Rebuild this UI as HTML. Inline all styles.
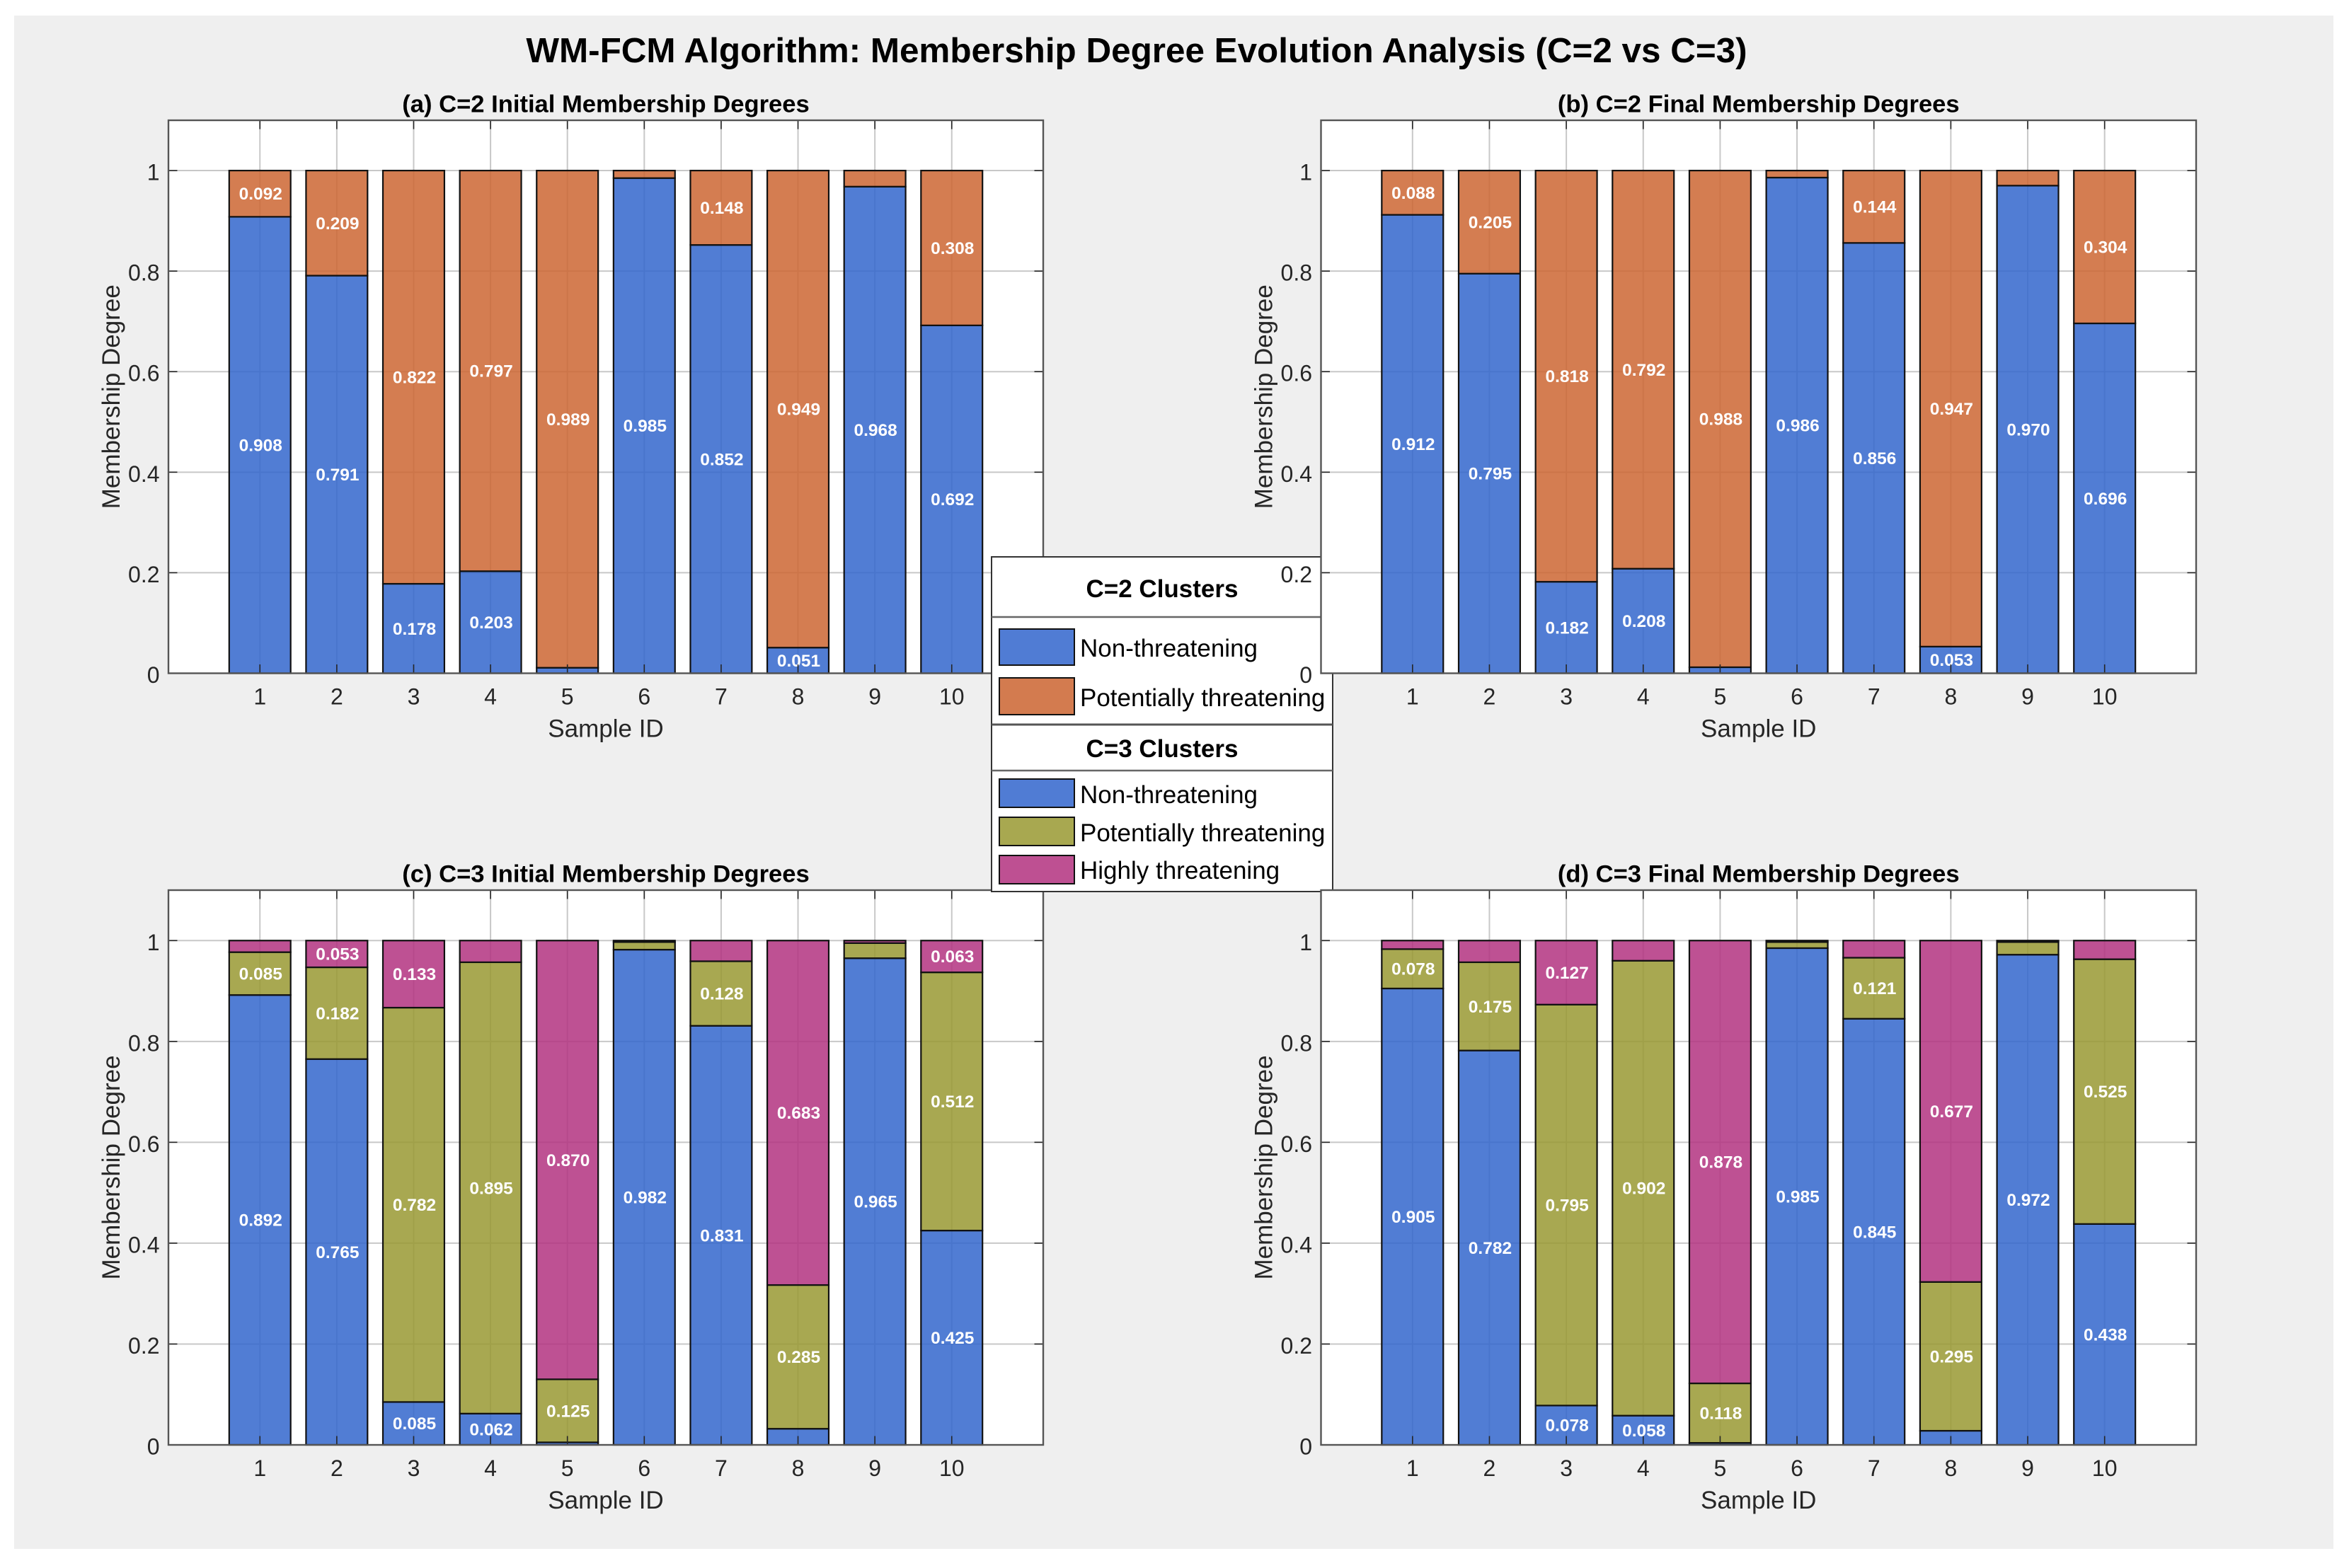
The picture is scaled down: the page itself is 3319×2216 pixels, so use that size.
<!DOCTYPE html>
<html lang="en">
<head>
<meta charset="utf-8">
<title>WM-FCM Algorithm: Membership Degree Evolution Analysis</title>
<style>
html,body{margin:0;padding:0;background:#fff;}
svg{display:block;font-family:"Liberation Sans",Arial,sans-serif;}
</style>
</head>
<body>
<svg id="figure" xmlns="http://www.w3.org/2000/svg" width="3319" height="2216" viewBox="0 0 3319 2216">
  <rect x="20" y="22" width="3277" height="2167" fill="#efefef"/>
  <text x="1606" y="88" font-size="49.4" font-weight="bold" text-anchor="middle" fill="#000">WM-FCM Algorithm: Membership Degree Evolution Analysis (C=2 vs C=3)</text>
  <g id="panel-a"></g>
  <g id="panel-c"></g>
  <g id="legend">
    <rect x="1401" y="787" width="482" height="473" fill="#fff" stroke="#333" stroke-width="2"/>
    <line x1="1401" y1="872" x2="1883" y2="872" stroke="#666" stroke-width="2.5"/>
    <line x1="1401" y1="1024" x2="1883" y2="1024" stroke="#555" stroke-width="3"/>
    <line x1="1401" y1="1089" x2="1883" y2="1089" stroke="#666" stroke-width="2.5"/>
    <text x="1642" y="844" font-size="35" font-weight="bold" text-anchor="middle">C=2 Clusters</text>
    <text x="1642" y="1070" font-size="35" font-weight="bold" text-anchor="middle">C=3 Clusters</text>
    <rect x="1412" y="889" width="106" height="51" fill="#507CD4" stroke="#111" stroke-width="2"/>
    <text x="1526" y="928" font-size="35">Non-threatening</text>
    <rect x="1412" y="958" width="106" height="52" fill="#D37B4F" stroke="#111" stroke-width="2"/>
    <text x="1526" y="998" font-size="35">Potentially threatening</text>
    <rect x="1412" y="1101" width="106" height="40" fill="#507CD4" stroke="#111" stroke-width="2"/>
    <text x="1526" y="1135" font-size="35">Non-threatening</text>
    <rect x="1412" y="1155" width="106" height="40" fill="#A8A850" stroke="#111" stroke-width="2"/>
    <text x="1526" y="1189" font-size="35">Potentially threatening</text>
    <rect x="1412" y="1209" width="106" height="40" fill="#BE5092" stroke="#111" stroke-width="2"/>
    <text x="1526" y="1242" font-size="35">Highly threatening</text>
  </g>
  <g id="panel-b"></g>
  <g id="panel-d"></g>
</svg>
<script>
// Chart data
const sampleIds = [1, 2, 3, 4, 5, 6, 7, 8, 9, 10];
const yTicks = [0, 0.2, 0.4, 0.6, 0.8, 1];
const yTickLabels = ['0', '0.2', '0.4', '0.6', '0.8', '1'];

const a_nonThreatening = [0.908, 0.791, 0.178, 0.203, 0.011, 0.985, 0.852, 0.051, 0.968, 0.692];
const a_potentially = [0.092, 0.209, 0.822, 0.797, 0.989, 0.015, 0.148, 0.949, 0.032, 0.308];

const b_nonThreatening = [0.912, 0.795, 0.182, 0.208, 0.012, 0.986, 0.856, 0.053, 0.970, 0.696];
const b_potentially = [0.088, 0.205, 0.818, 0.792, 0.988, 0.014, 0.144, 0.947, 0.030, 0.304];

const c_nonThreatening = [0.892, 0.765, 0.085, 0.062, 0.005, 0.982, 0.831, 0.032, 0.965, 0.425];
const c_potentially = [0.085, 0.182, 0.782, 0.895, 0.125, 0.015, 0.128, 0.285, 0.030, 0.512];
const c_highly = [0.023, 0.053, 0.133, 0.043, 0.870, 0.003, 0.041, 0.683, 0.005, 0.063];

const d_nonThreatening = [0.905, 0.782, 0.078, 0.058, 0.004, 0.985, 0.845, 0.028, 0.972, 0.438];
const d_potentially = [0.078, 0.175, 0.795, 0.902, 0.118, 0.012, 0.121, 0.295, 0.025, 0.525];
const d_highly = [0.017, 0.043, 0.127, 0.040, 0.878, 0.003, 0.034, 0.677, 0.003, 0.037];

// Rendering
const NS = 'http://www.w3.org/2000/svg';
const BLUE = 'rgb(51,102,204)', ORANGE = 'rgb(204,102,51)', OLIVE = 'rgb(153,153,51)', MAGENTA = 'rgb(179,51,128)';
const LABEL_MIN = 0.05;
const XMIN = -0.19, XMAX = 11.19, YMIN = 0, YMAX = 1.1, BAR_WIDTH = 0.8;

function make(parent, tag, props, content) {
  const el = document.createElementNS(NS, tag);
  for (const k in props) el.setAttribute(k, props[k]);
  if (content !== undefined) el.textContent = content;
  parent.appendChild(el);
  return el;
}

function drawPanel(cfg) {
  const g = document.getElementById(cfg.id);
  const xScale = v => cfg.left + (v - XMIN) / (XMAX - XMIN) * (cfg.right - cfg.left);
  const yScale = v => cfg.bottom - (v - YMIN) / (YMAX - YMIN) * (cfg.bottom - cfg.top);
  let el;

  el = make(g, 'rect', {x: cfg.left, y: cfg.top, width: cfg.right - cfg.left, height: cfg.bottom - cfg.top, fill: '#fff'});
  
  

  // grid
  sampleIds.forEach(id => {
    const line = make(g, 'line', {x1: xScale(id), x2: xScale(id), y1: cfg.top, y2: cfg.bottom, stroke: '#c8c8c8', 'stroke-width': 2});
    
    
  });
  yTicks.forEach(t => {
    const line = make(g, 'line', {x1: cfg.left, x2: cfg.right, y1: yScale(t), y2: yScale(t), stroke: '#c8c8c8', 'stroke-width': 2});
    
    
  });

  // stacked bars
  sampleIds.forEach((id, i) => {
    let base = 0;
    cfg.series.forEach(s => {
      const v = s.values[i];
      const x0 = xScale(id - BAR_WIDTH / 2), x1 = xScale(id + BAR_WIDTH / 2);
      const bar = make(g, 'rect', {x: x0, y: yScale(base + v), width: x1 - x0, height: yScale(base) - yScale(base + v), fill: s.color, 'fill-opacity': 0.85, stroke: '#111', 'stroke-width': 2.2});
      
      
      base += v;
    });
  });

  // value labels
  sampleIds.forEach((id, i) => {
    let base = 0;
    cfg.series.forEach(s => {
      const v = s.values[i];
      if (v >= LABEL_MIN) {
        const lab = make(g, 'text', {x: xScale(id) + 1, y: yScale(base + v / 2) + 8.5, fill: '#fff', 'font-size': 24.5, 'font-weight': 'bold', 'text-anchor': 'middle'}, v.toFixed(3));
        
        
      }
      base += v;
    });
  });

  // ticks
  sampleIds.forEach(id => {
    const bottomTick = make(g, 'line', {x1: xScale(id), x2: xScale(id), y1: cfg.bottom, y2: cfg.bottom - 12.5, stroke: '#262626', 'stroke-width': 1.6});
    
    
    const topTick = make(g, 'line', {x1: xScale(id), x2: xScale(id), y1: cfg.top, y2: cfg.top + 12.5, stroke: '#262626', 'stroke-width': 1.6});
    
    
    const lab = make(g, 'text', {x: xScale(id), y: cfg.bottom + 44, fill: '#262626', 'font-size': 32, 'text-anchor': 'middle'}, String(id));
    
    
  });
  yTicks.forEach((t, i) => {
    const leftTick = make(g, 'line', {x1: cfg.left, x2: cfg.left + 12.5, y1: yScale(t), y2: yScale(t), stroke: '#262626', 'stroke-width': 1.6});
    
    
    const rightTick = make(g, 'line', {x1: cfg.right, x2: cfg.right - 12.5, y1: yScale(t), y2: yScale(t), stroke: '#262626', 'stroke-width': 1.6});
    
    
    const lab = make(g, 'text', {x: cfg.left - 12.5, y: yScale(t) + 13.5, fill: '#262626', 'font-size': 32, 'text-anchor': 'end'}, yTickLabels[i]);
    
    
  });

  // axes box
  el = make(g, 'rect', {x: cfg.left, y: cfg.top, width: cfg.right - cfg.left, height: cfg.bottom - cfg.top, fill: 'none', stroke: '#555', 'stroke-width': 2.4});
  
  

  // titles
  const cx = (cfg.left + cfg.right) / 2, cy = (cfg.top + cfg.bottom) / 2;
  el = make(g, 'text', {x: cx, y: cfg.top - 11.5, 'font-size': 34.6, 'font-weight': 'bold', 'text-anchor': 'middle', fill: '#000'}, cfg.title);
  
  
  el = make(g, 'text', {x: cx, y: cfg.bottom + 90, 'font-size': 35, 'text-anchor': 'middle', fill: '#262626'}, 'Sample ID');
  
  
  el = make(g, 'text', {x: cfg.left - 69, y: cy, 'font-size': 35, 'text-anchor': 'middle', fill: '#262626', transform: 'rotate(-90 ' + (cfg.left - 69) + ' ' + cy + ')'}, 'Membership Degree');
  
  
}

drawPanel({id: 'panel-a', left: 238, right: 1474, top: 170, bottom: 951.5, title: '(a) C=2 Initial Membership Degrees',
  series: [{key: 'non-threatening', color: BLUE, values: a_nonThreatening}, {key: 'potentially-threatening', color: ORANGE, values: a_potentially}]});
drawPanel({id: 'panel-c', left: 238, right: 1474, top: 1258, bottom: 2042, title: '(c) C=3 Initial Membership Degrees',
  series: [{key: 'non-threatening', color: BLUE, values: c_nonThreatening}, {key: 'potentially-threatening', color: OLIVE, values: c_potentially}, {key: 'highly-threatening', color: MAGENTA, values: c_highly}]});
drawPanel({id: 'panel-b', left: 1866.5, right: 3103, top: 170, bottom: 951.5, title: '(b) C=2 Final Membership Degrees',
  series: [{key: 'non-threatening', color: BLUE, values: b_nonThreatening}, {key: 'potentially-threatening', color: ORANGE, values: b_potentially}]});
drawPanel({id: 'panel-d', left: 1866.5, right: 3103, top: 1258, bottom: 2042, title: '(d) C=3 Final Membership Degrees',
  series: [{key: 'non-threatening', color: BLUE, values: d_nonThreatening}, {key: 'potentially-threatening', color: OLIVE, values: d_potentially}, {key: 'highly-threatening', color: MAGENTA, values: d_highly}]});
</script>
</body>
</html>
